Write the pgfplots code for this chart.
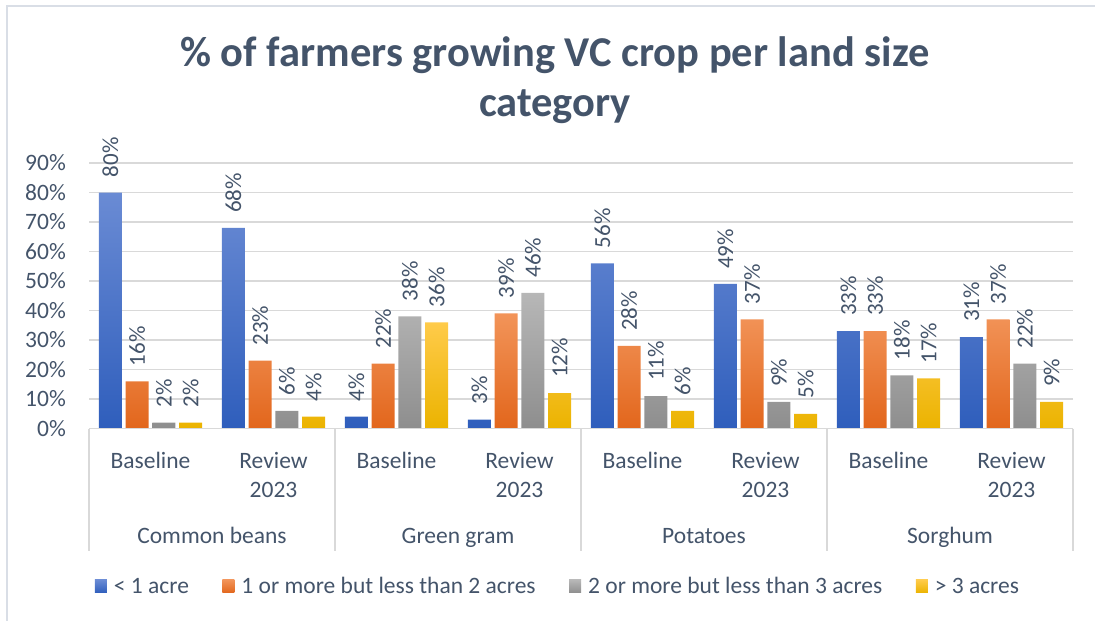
\documentclass[border=0pt]{standalone}
\usepackage{fontspec}
\setmainfont{Carlito}
\usepackage{pgfplots}
\pgfplotsset{compat=1.18}
\definecolor{txt}{HTML}{44546A}
\definecolor{gridc}{HTML}{D9D9D9}
\definecolor{bord}{HTML}{D9DEE6}
\definecolor{bluetop}{HTML}{6A8BD4}
\definecolor{bluebot}{HTML}{2F5EBC}
\definecolor{orgtop}{HTML}{F29459}
\definecolor{orgbot}{HTML}{E2661C}
\definecolor{graytop}{HTML}{B7B7B7}
\definecolor{graybot}{HTML}{8E8E8E}
\definecolor{yeltop}{HTML}{FFCB4A}
\definecolor{yelbot}{HTML}{EBB300}
\newcommand{\lblfont}{\fontsize{23.5bp}{28.5bp}\selectfont}
\begin{document}
\begin{tikzpicture}
\useasboundingbox (0bp,0bp) rectangle (1095bp,621bp);
\draw[bord, line width=1.5bp] (7bp,0bp) -- (7bp,615bp) -- (1095bp,615bp);
\node[anchor=base, font=\fontsize{42.5bp}{50bp}\selectfont\bfseries, text=txt, inner sep=0pt] at (555bp,554.3bp) {\% of farmers growing VC crop per land size};
\node[anchor=base, font=\fontsize{42.5bp}{50bp}\selectfont\bfseries, text=txt, inner sep=0pt] at (555bp,504bp) {category};
\begin{axis}[
  at={(89bp,192.5bp)}, anchor=south west,
  scale only axis, width=984bp, height=265.5bp,
  xmin=-0.5, xmax=7.5, ymin=0, ymax=90,
  clip=false,
  ybar=3.7bp, bar width=23bp,
  axis line style={draw=none},
  tick style={draw=none},
  ymajorgrids, grid style={gridc, line width=1.3bp},
  ytick={0,10,...,90},
  yticklabel={\pgfmathprintnumber{\tick}\%},
  /pgf/number format/assume math mode=true,
  yticklabel style={font=\lblfont, text=txt, inner sep=0pt, anchor=east, xshift=-23bp},
  xtick={0,...,7},
  xticklabels={Baseline,{Review\\2023},Baseline,{Review\\2023},Baseline,{Review\\2023},Baseline,{Review\\2023}},
  xticklabel style={font=\lblfont, text=txt, inner sep=0pt, anchor=north, yshift=-19.5bp, align=center},
  nodes near coords={\pgfmathprintnumber{\pgfplotspointmeta}\%},
  nodes near coords style={rotate=90, anchor=west, inner xsep=15bp, inner ysep=0pt, font=\fontsize{23bp}{27bp}\selectfont, text=txt},
  legend columns=4,
  legend style={at={(0.4756,-0.595)}, anchor=center, draw=none, fill=none, font=\lblfont, text=txt,
    nodes={inner sep=0pt},
    /tikz/every odd column/.append style={column sep=7bp},
    /tikz/every even column/.append style={column sep=33.5bp}},
  mylegend/.style={legend image code/.code={\path[##1, draw=none] (0bp,-6.5bp) rectangle (12bp,6.5bp);}},
]
\addplot[draw=none, top color=bluetop, bottom color=bluebot, mylegend] coordinates {(0,80) (1,68) (2,4) (3,3) (4,56) (5,49) (6,33) (7,31)};
\addplot[draw=none, top color=orgtop, bottom color=orgbot, mylegend] coordinates {(0,16) (1,23) (2,22) (3,39) (4,28) (5,37) (6,33) (7,37)};
\addplot[draw=none, top color=graytop, bottom color=graybot, mylegend] coordinates {(0,2) (1,6) (2,38) (3,46) (4,11) (5,9) (6,18) (7,22)};
\addplot[draw=none, top color=yeltop, bottom color=yelbot, mylegend] coordinates {(0,2) (1,4) (2,36) (3,12) (4,6) (5,5) (6,17) (7,9)};
\legend{< 1 acre, 1 or more but less than 2 acres, 2 or more but less than 3 acres, > 3 acres}
\draw[gridc, line width=1.3bp] (axis cs:-0.5,0) -- (axis cs:7.5,0);
\draw[gridc, line width=1.3bp] (axis cs:-0.5,0) -- ++(0bp,-122.5bp);
\draw[gridc, line width=1.3bp] (axis cs:1.5,0) -- ++(0bp,-122.5bp);
\draw[gridc, line width=1.3bp] (axis cs:3.5,0) -- ++(0bp,-122.5bp);
\draw[gridc, line width=1.3bp] (axis cs:5.5,0) -- ++(0bp,-122.5bp);
\draw[gridc, line width=1.3bp] (axis cs:7.5,0) -- ++(0bp,-122.5bp);
\node[anchor=base, font=\lblfont, text=txt, inner sep=0pt, yshift=-114.5bp] at (axis cs:0.5,0) {Common beans};
\node[anchor=base, font=\lblfont, text=txt, inner sep=0pt, yshift=-114.5bp] at (axis cs:2.5,0) {Green gram};
\node[anchor=base, font=\lblfont, text=txt, inner sep=0pt, yshift=-114.5bp] at (axis cs:4.5,0) {Potatoes};
\node[anchor=base, font=\lblfont, text=txt, inner sep=0pt, yshift=-114.5bp] at (axis cs:6.5,0) {Sorghum};
\end{axis}
\end{tikzpicture}
\end{document}
